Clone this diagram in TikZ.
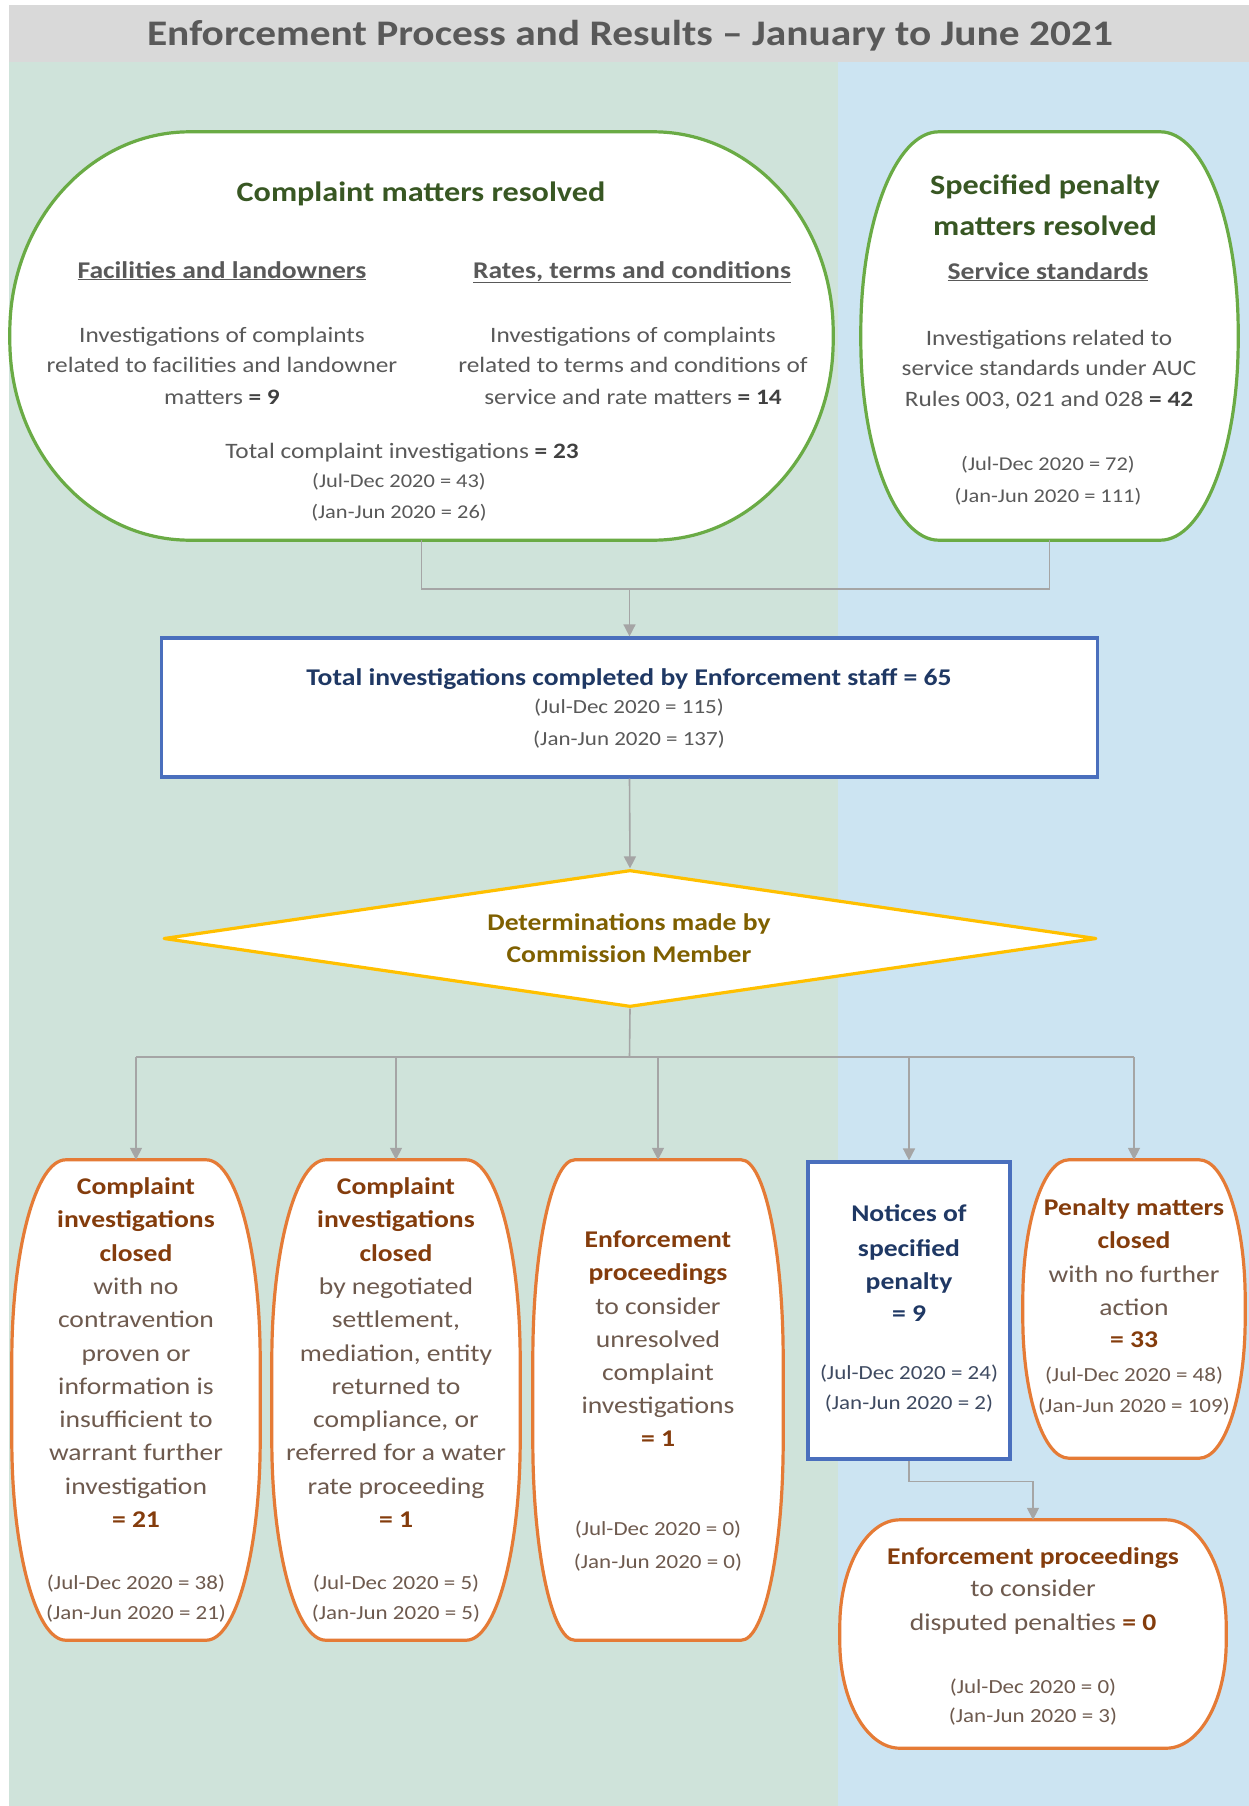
\documentclass[tikz,border=0pt]{standalone}
\usepackage{fontspec}
\setmainfont{Carlito}[FakeStretch=1.15]
\usetikzlibrary{calc,arrows.meta,shapes.geometric}
\definecolor{band}{HTML}{D9D9D9}
\definecolor{bgG}{HTML}{CFE3DA}
\definecolor{bgB}{HTML}{CCE4F2}
\definecolor{cGrey}{HTML}{595959}
\definecolor{cDark}{HTML}{404040}
\definecolor{cGreenT}{HTML}{385723}
\definecolor{cNavy}{HTML}{1F3864}
\definecolor{cNavyReg}{HTML}{3E4A61}
\definecolor{cGoldT}{HTML}{7F6000}
\definecolor{cBrown}{HTML}{843C0C}
\definecolor{cBrownReg}{HTML}{6E5A4E}
\definecolor{lGreen}{HTML}{6AAB45}
\definecolor{lBlue}{HTML}{4A6FBD}
\definecolor{lGold}{HTML}{FFC000}
\definecolor{lOrange}{HTML}{E57B36}
\definecolor{lConn}{HTML}{A5A5A5}
\newcommand\fTitle{\fontsize{36}{40}\selectfont\bfseries}
\newcommand\fHead{\fontsize{28}{32}\selectfont\bfseries}
\newcommand\fSub{\fontsize{24}{28}\selectfont\bfseries}
\newcommand\fBody{\fontsize{22}{26}\selectfont}
\newcommand\fSmall{\fontsize{19.5}{23}\selectfont}
\newcommand\fMid{\fontsize{24}{28}\selectfont}
\newcommand\fSmallB{\fontsize{20}{24}\selectfont}
\newcommand\Bo[1]{{\bfseries\color{cBrown}#1}}
\newcommand\Bd[1]{{\bfseries\color{cDark}#1}}
% elliptical-corner frame round a node: name, rx, ry, colour
\newcommand{\ellframe}[4]{%
  \draw[line width=3.2pt, draw=#4, fill=white]
    ($(#1.north west)+(#2pt,0pt)$) -- ($(#1.north east)+(-#2pt,0pt)$)
    .. controls ($(#1.north east)+(-0.4477*#2pt,0pt)$) and ($(#1.north east)+(0pt,-0.4477*#3pt)$) .. ($(#1.north east)+(0pt,-#3pt)$)
    -- ($(#1.south east)+(0pt,#3pt)$)
    .. controls ($(#1.south east)+(0pt,0.4477*#3pt)$) and ($(#1.south east)+(-0.4477*#2pt,0pt)$) .. ($(#1.south east)+(-#2pt,0pt)$)
    -- ($(#1.south west)+(#2pt,0pt)$)
    .. controls ($(#1.south west)+(0.4477*#2pt,0pt)$) and ($(#1.south west)+(0pt,0.4477*#3pt)$) .. ($(#1.south west)+(0pt,#3pt)$)
    -- ($(#1.north west)+(0pt,-#3pt)$)
    .. controls ($(#1.north west)+(0pt,-0.4477*#3pt)$) and ($(#1.north west)+(0.4477*#2pt,0pt)$) .. cycle;
}
\begin{document}
\begin{tikzpicture}[x=1pt,y=-1pt,
  box/.style={rectangle, inner sep=0pt, draw=none},
  ln/.style={anchor=base, inner sep=0pt},
  conn/.style={draw=lConn, line width=1.6pt},
  arr/.style={conn, -{Triangle[length=12pt,width=12pt]}}]
\useasboundingbox (0,0) rectangle (1249,1806);
% background
\fill[white] (0,0) rectangle (1249,1806);
\fill[band] (9,5) rectangle (1249,62);
\fill[bgG] (9,62) rectangle (838,1806);
\fill[bgB] (838,62) rectangle (1249,1806);
\node[ln, font=\fTitle, text=cGrey] (title) at (630,46) {Enforcement Process and Results – January to June 2021};

% shapes
\node[box, minimum width=823pt, minimum height=408pt] (cm) at (421.5,336) {};
\node[box, minimum width=377pt, minimum height=408pt] (sp) at (1049.5,336) {};
\node[box, draw=lBlue, line width=3.2pt, fill=white, minimum width=936pt, minimum height=139pt] (tot) at (629.5,707.5) {};
\node[diamond, draw=lGold, line width=3.2pt, line join=round, fill=white, inner sep=0pt, minimum width=933pt, minimum height=137pt] (det) at (630,938.5) {};
\node[box, minimum width=248pt, minimum height=480pt] (b1) at (136,1400) {};
\node[box, minimum width=248pt, minimum height=480pt] (b2) at (396,1400) {};
\node[box, minimum width=250pt, minimum height=480pt] (b3) at (658,1400) {};
\node[box, draw=lBlue, line width=3.2pt, fill=white, minimum width=202pt, minimum height=297pt] (b4) at (909,1310.5) {};
\node[box, minimum width=222pt, minimum height=298pt] (b5) at (1134,1309) {};
\node[box, minimum width=386pt, minimum height=228pt] (b6) at (1033,1634) {};
\ellframe{cm}{180}{200}{lGreen}
\ellframe{sp}{78}{200}{lGreen}
\ellframe{b1}{54}{200}{lOrange}
\ellframe{b2}{54}{200}{lOrange}
\ellframe{b3}{42}{200}{lOrange}
\ellframe{b5}{46}{140}{lOrange}
\ellframe{b6}{60}{106}{lOrange}

% connectors
\coordinate (j1) at (629.5,589);
\coordinate (j2) at (629.5,1057);
\draw[conn] (cm.south) |- (j1);
\draw[conn] (sp.south) |- (j1);
\draw[arr] (j1) -- (tot.north);
\draw[arr] (tot.south) -- (det.north);
\draw[conn] (det.south) -- (j2);
\draw[conn] (b1.north |- j2) -- (b5.north |- j2);
\foreach \b in {b1,b2,b3,b4,b5} {\draw[arr] (\b.north |- j2) -- (\b.north);}
\draw[arr] (b4.south) -- ++(0,21) -| (b6.north);

% complaint box text
\node[ln, font=\fHead, text=cGreenT] (cmh) at (421,202) {Complaint matters resolved};
\node[ln, font=\fSub, text=cGrey] (cms1) at (222,278) {\underline{Facilities and landowners}};
\node[ln, font=\fSub, text=cGrey] (cms2) at (632,278) {\underline{Rates, terms and conditions}};
\node[ln, font=\fBody, text=cGrey] (cml1) at (222,342) {Investigations of complaints};
\node[ln, font=\fBody, text=cGrey] (cml2) at (222,372) {related to facilities and landowner};
\node[ln, font=\fBody, text=cGrey] (cml3) at (222,404) {matters \Bd{= 9}};
\node[ln, font=\fBody, text=cGrey] (cmr1) at (633,342) {Investigations of complaints};
\node[ln, font=\fBody, text=cGrey] (cmr2) at (633,372) {related to terms and conditions of};
\node[ln, font=\fBody, text=cGrey] (cmr3) at (633,404) {service and rate matters \Bd{= 14}};
\node[ln, font=\fBody, text=cGrey] (cmt) at (402,458) {Total complaint investigations \Bd{= 23}};
\node[ln, font=\fSmall, text=cGrey] (cmj1) at (399,487) {(Jul-Dec 2020 = 43)};
\node[ln, font=\fSmall, text=cGrey] (cmj2) at (399,518) {(Jan-Jun 2020 = 26)};

% specified penalty box text
\node[ln, font=\fHead, text=cGreenT] (sph1) at (1045,195) {Specified penalty};
\node[ln, font=\fHead, text=cGreenT] (sph2) at (1045,235) {matters resolved};
\node[ln, font=\fSub, text=cGrey] (sps) at (1048,279) {\underline{Service standards}};
\node[ln, font=\fBody, text=cGrey] (spl1) at (1049,345) {Investigations related to};
\node[ln, font=\fBody, text=cGrey] (spl2) at (1049,375) {service standards under AUC};
\node[ln, font=\fBody, text=cGrey] (spl3) at (1049,406) {Rules 003, 021 and 028 \Bd{= 42}};
\node[ln, font=\fSmall, text=cGrey] (spj1) at (1048,470) {(Jul-Dec 2020 = 72)};
\node[ln, font=\fSmall, text=cGrey] (spj2) at (1048,502) {(Jan-Jun 2020 = 111)};

% total box text
\node[ln, font=\fMid\bfseries, text=cNavy] (tott) at (629,685) {Total investigations completed by Enforcement staff = 65};
\node[ln, font=\fSmallB, text=cGrey] (totj1) at (629,713) {(Jul-Dec 2020 = 115)};
\node[ln, font=\fSmallB, text=cGrey] (totj2) at (629,745) {(Jan-Jun 2020 = 137)};

% diamond text
\node[ln, font=\fMid\bfseries, text=cGoldT] (det1) at (629,930) {Determinations made by};
\node[ln, font=\fMid\bfseries, text=cGoldT] (det2) at (629,962) {Commission Member};

% bottom box 1
\foreach \yy/\tx [count=\i] in {1194/{\Bo{Complaint}}, 1227/{\Bo{investigations}}, 1261/{\Bo{closed}},
  1294/{with no}, 1327/{contravention}, 1361/{proven or}, 1394/{information is},
  1427/{insufficient to}, 1460/{warrant further}, 1494/{investigation}, 1527/{\Bo{= 21}}}
  {\node[ln, font=\fMid, text=cBrownReg] (bA\i) at (136,\yy) {\tx};}
\node[ln, font=\fSmallB, text=cBrownReg] (bAj1) at (136,1589) {(Jul-Dec 2020 = 38)};
\node[ln, font=\fSmallB, text=cBrownReg] (bAj2) at (136,1619) {(Jan-Jun 2020 = 21)};

% bottom box 2
\foreach \yy/\tx [count=\i] in {1194/{\Bo{Complaint}}, 1227/{\Bo{investigations}}, 1261/{\Bo{closed}},
  1294/{by negotiated}, 1327/{settlement,}, 1361/{mediation, entity}, 1394/{returned to},
  1427/{compliance, or}, 1460/{referred for a water}, 1494/{rate proceeding}, 1527/{\Bo{= 1}}}
  {\node[ln, font=\fMid, text=cBrownReg] (bB\i) at (396,\yy) {\tx};}
\node[ln, font=\fSmallB, text=cBrownReg] (bBj1) at (396,1589) {(Jul-Dec 2020 = 5)};
\node[ln, font=\fSmallB, text=cBrownReg] (bBj2) at (396,1619) {(Jan-Jun 2020 = 5)};

% bottom box 3
\foreach \yy/\tx [count=\i] in {1247/{\Bo{Enforcement}}, 1280/{\Bo{proceedings}}, 1314/{to consider},
  1347/{unresolved}, 1380/{complaint}, 1413/{investigations}, 1446/{\Bo{= 1}}}
  {\node[ln, font=\fMid, text=cBrownReg] (bC\i) at (658,\yy) {\tx};}
\node[ln, font=\fSmallB, text=cBrownReg] (bCj1) at (658,1535) {(Jul-Dec 2020 = 0)};
\node[ln, font=\fSmallB, text=cBrownReg] (bCj2) at (658,1568) {(Jan-Jun 2020 = 0)};

% notices box
\foreach \yy/\tx [count=\i] in {1221/{Notices of}, 1256/{specified}, 1289/{penalty}, 1321/{= 9}}
  {\node[ln, font=\fMid\bfseries, text=cNavy] (bD\i) at (909,\yy) {\tx};}
\node[ln, font=\fSmallB, text=cNavyReg] (bDj1) at (909,1379) {(Jul-Dec 2020 = 24)};
\node[ln, font=\fSmallB, text=cNavyReg] (bDj2) at (909,1409) {(Jan-Jun 2020 = 2)};

% penalty matters closed
\foreach \yy/\tx [count=\i] in {1215/{\Bo{Penalty matters}}, 1248/{\Bo{closed}}, 1282/{with no further},
  1315/{action}, 1347/{\Bo{= 33}}}
  {\node[ln, font=\fMid, text=cBrownReg] (bE\i) at (1134,\yy) {\tx};}
\node[ln, font=\fSmallB, text=cBrownReg] (bEj1) at (1134,1381) {(Jul-Dec 2020 = 48)};
\node[ln, font=\fSmallB, text=cBrownReg] (bEj2) at (1134,1412) {(Jan-Jun 2020 = 109)};

% enforcement proceedings (disputed penalties)
\node[ln, font=\fMid, text=cBrownReg] (bF1) at (1033,1564) {\Bo{Enforcement proceedings}};
\node[ln, font=\fMid, text=cBrownReg] (bF2) at (1033,1596) {to consider};
\node[ln, font=\fMid, text=cBrownReg] (bF3) at (1033,1630) {disputed penalties \Bo{= 0}};
\node[ln, font=\fSmallB, text=cBrownReg] (bFj1) at (1033,1693) {(Jul-Dec 2020 = 0)};
\node[ln, font=\fSmallB, text=cBrownReg] (bFj2) at (1033,1722) {(Jan-Jun 2020 = 3)};
\end{tikzpicture}
\end{document}
